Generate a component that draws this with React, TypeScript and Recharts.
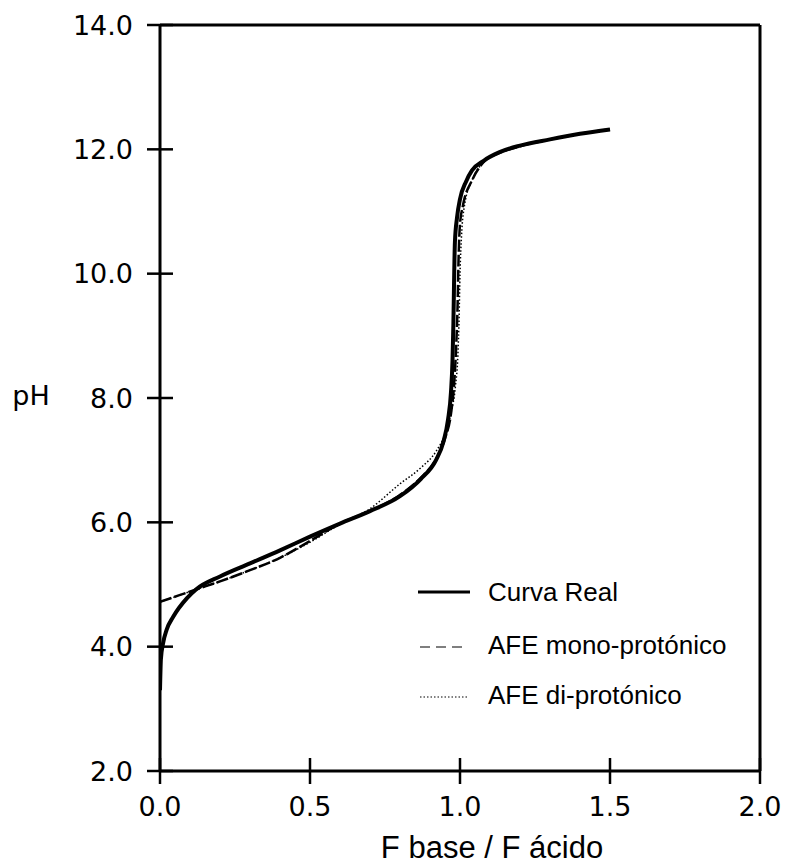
import React from 'react';
import { LineChart, Line, XAxis, YAxis, ReferenceLine, Legend } from 'recharts';

const realX = [0, 0.003, 0.01, 0.022, 0.044, 0.09, 0.12, 0.2, 0.3, 0.4, 0.5, 0.6, 0.7, 0.8, 0.87, 0.92, 0.945, 0.96, 0.97, 0.975, 0.978, 0.98, 0.983, 0.99, 1.0, 1.02, 1.04, 1.08, 1.13, 1.2, 1.3, 1.4, 1.5];
const realPH = [3.3, 3.8, 4.05, 4.27, 4.48, 4.78, 4.92, 5.13, 5.34, 5.55, 5.77, 5.98, 6.18, 6.42, 6.7, 7.0, 7.3, 7.65, 8.1, 8.6, 9.2, 9.8, 10.5, 10.9, 11.2, 11.48, 11.66, 11.82, 11.95, 12.06, 12.16, 12.25, 12.32];

const monoX = [0, 0.06, 0.12, 0.2, 0.3, 0.4, 0.5, 0.6, 0.7, 0.8, 0.87, 0.92, 0.95, 0.97, 0.98, 0.987, 0.992, 0.995, 1.0, 1.01, 1.04, 1.08, 1.13, 1.2, 1.3, 1.4, 1.5];
const monoPH = [4.72, 4.82, 4.92, 5.05, 5.23, 5.43, 5.7, 5.98, 6.18, 6.44, 6.72, 7.02, 7.35, 7.75, 8.2, 8.8, 9.5, 10.2, 10.8, 11.1, 11.5, 11.8, 11.94, 12.05, 12.16, 12.25, 12.32];

const diX = [0, 0.06, 0.12, 0.2, 0.3, 0.4, 0.5, 0.6, 0.7, 0.8, 0.87, 0.92, 0.95, 0.97, 0.985, 0.993, 0.997, 1.0, 1.005, 1.015, 1.04, 1.08, 1.13, 1.2, 1.3, 1.4, 1.5];
const diPH = [4.72, 4.82, 4.92, 5.05, 5.23, 5.43, 5.68, 5.97, 6.22, 6.62, 6.88, 7.14, 7.42, 7.76, 8.2, 8.7, 9.3, 10.0, 10.6, 11.1, 11.5, 11.8, 11.94, 12.05, 12.16, 12.25, 12.32];

const xTicks = [0, 0.5, 1.0, 1.5, 2.0];
const yTicks = [2, 4, 6, 8, 10, 12, 14];

const seriesNames = ['Curva Real', 'AFE mono-protónico', 'AFE di-protónico'];

const zip = (xs: number[], ys: number[]) => xs.map((x, i) => ({ x, y: ys[i] }));
const realData = zip(realX, realPH);
const monoData = zip(monoX, monoPH);
const diData = zip(diX, diPH);

const tickFont = '"DejaVu Sans", sans-serif';
const textFont = '"Liberation Sans", Arial, sans-serif';

const XTick = (props: any) => {
  const { x, y, payload } = props;
  return (
    <g>
      <line x1={x} x2={x} y1={y - 13} y2={y + 13} stroke="#000" strokeWidth={2.5} />
      <text x={x} y={y + 35} textAnchor="middle" dominantBaseline="central" fontFamily={tickFont} fontSize={27} fill="#000">
        {Number(payload.value).toFixed(1)}
      </text>
    </g>
  );
};

const YTick = (props: any) => {
  const { x, y, payload } = props;
  return (
    <g>
      <line x1={x - 13} x2={x + 13} y1={y} y2={y} stroke="#000" strokeWidth={2.5} />
      <text x={x - 27} y={y} textAnchor="end" dominantBaseline="central" fontFamily={tickFont} fontSize={27} fill="#000">
        {Number(payload.value).toFixed(1)}
      </text>
    </g>
  );
};

const LegendBox = () => (
  <svg width={340} height={150}>
    <line x1={8} x2={60} y1={22} y2={22} stroke="#000" strokeWidth={3} />
    <text x={78} y={22} dominantBaseline="central" fontFamily={textFont} fontSize={26} fill="#000">{seriesNames[0]}</text>
    <line x1={10} x2={58} y1={77} y2={77} stroke="#000" strokeWidth={1.2} strokeDasharray="10 6" />
    <text x={78} y={75} dominantBaseline="central" fontFamily={textFont} fontSize={26} fill="#000">{seriesNames[1]}</text>
    <line x1={10} x2={58} y1={127} y2={127} stroke="#000" strokeWidth={1.2} strokeDasharray="1.5 2" />
    <text x={78} y={125} dominantBaseline="central" fontFamily={textFont} fontSize={26} fill="#000">{seriesNames[2]}</text>
  </svg>
);

export default function App() {
  return (
    <div style={{ position: 'absolute', left: 0, top: 0, width: 787, height: 864, background: '#fff' }}>
      <LineChart width={787} height={864} margin={{ top: 25, right: 27, bottom: 33, left: 100 }}>
        <XAxis
          type="number"
          dataKey="x"
          domain={[0, 2]}
          ticks={xTicks}
          height={60}
          tickSize={0}
          tickMargin={0}
          tickLine={false}
          axisLine={{ stroke: '#000', strokeWidth: 3 }}
          tick={<XTick />}
          interval={0}
          allowDataOverflow
          label={{
            content: () => (
              <text x={492} y={847} textAnchor="middle" dominantBaseline="central" fontFamily={textFont} fontSize={31} fill="#000">
                F base / F ácido
              </text>
            ),
          }}
        />
        <YAxis
          type="number"
          dataKey="y"
          domain={[2, 14]}
          ticks={yTicks}
          width={60}
          tickSize={0}
          tickMargin={0}
          tickLine={false}
          axisLine={{ stroke: '#000', strokeWidth: 3 }}
          tick={<YTick />}
          interval={0}
          allowDataOverflow
          label={{
            content: () => (
              <text x={31} y={395} textAnchor="middle" dominantBaseline="central" fontFamily={tickFont} fontSize={27} fill="#000">
                pH
              </text>
            ),
          }}
        />
        <ReferenceLine y={14} stroke="#000" strokeWidth={3} />
        <ReferenceLine x={2} stroke="#000" strokeWidth={3} />
        <Line data={diData} dataKey="y" name={seriesNames[2]} type="monotone" stroke="#000" strokeWidth={1.5} strokeDasharray="1.5 2" dot={false} isAnimationActive={false} />
        <Line data={monoData} dataKey="y" name={seriesNames[1]} type="monotone" stroke="#000" strokeWidth={2.5} strokeDasharray="12 3" dot={false} isAnimationActive={false} />
        <Line data={realData} dataKey="y" name={seriesNames[0]} type="monotone" stroke="#000" strokeWidth={4} dot={false} isAnimationActive={false} />
        <Legend
          layout="vertical"
          align="center"
          verticalAlign="middle"
          content={<LegendBox />}
          wrapperStyle={{ position: 'absolute', left: 410, top: 570, width: 340, height: 150 }}
        />
      </LineChart>
    </div>
  );
}
